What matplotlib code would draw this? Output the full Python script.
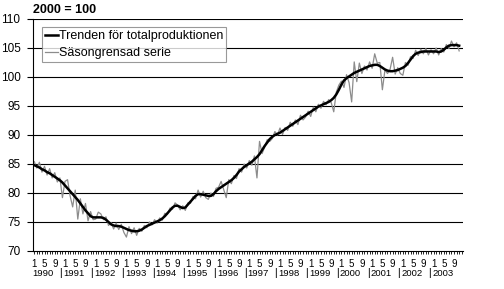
import numpy as np
import matplotlib
matplotlib.use("Agg")
import matplotlib.pyplot as plt

plt.rcParams["font.family"] = ["Liberation Sans", "DejaVu Sans"]

years = [1990, 1991, 1992, 1993, 1994, 1995, 1996, 1997, 1998, 1999, 2000, 2001, 2002, 2003]
month_labels = ["1", "5", "9"]

# trend, monthly from Jan 1990
trend = [
    84.8, 84.6, 84.4, 84.1, 83.9, 83.6, 83.4, 83.1, 82.8, 82.5, 82.2, 81.8,
    81.3, 80.8, 80.3, 79.8, 79.3, 78.8, 78.2, 77.6, 77.0, 76.5, 76.0, 75.8,
    75.8, 75.8, 75.8, 75.7, 75.4, 75.0, 74.6, 74.4, 74.3, 74.3, 74.2, 74.0,
    73.8, 73.6, 73.5, 73.4, 73.4, 73.5, 73.7, 74.0, 74.3, 74.5, 74.7, 74.9,
    75.1, 75.3, 75.6, 76.0, 76.5, 77.0, 77.5, 77.8, 77.8, 77.6, 77.4, 77.5,
    78.0, 78.5, 79.0, 79.5, 79.8, 79.8, 79.7, 79.6, 79.5, 79.5, 79.8, 80.3,
    80.7, 81.0, 81.3, 81.6, 81.9, 82.2, 82.6, 83.1, 83.7, 84.1, 84.5, 84.8,
    85.1, 85.4, 85.8, 86.2, 86.7, 87.4, 88.1, 88.7, 89.3, 89.7, 90.0, 90.2,
    90.4, 90.7, 91.0, 91.3, 91.6, 91.9, 92.2, 92.5, 92.8, 93.1, 93.4, 93.7,
    94.0, 94.3, 94.6, 94.9, 95.1, 95.3, 95.5, 95.7, 96.0, 96.4, 97.0, 97.8,
    98.7, 99.4, 99.8, 100.1, 100.4, 100.7, 100.9, 101.1, 101.3, 101.5, 101.7, 101.9,
    102.0, 102.1, 102.1, 101.9, 101.6, 101.3, 101.1, 101.0, 101.0, 101.1, 101.2, 101.4,
    101.6, 101.9, 102.4, 103.0, 103.6, 104.0, 104.2, 104.3, 104.4, 104.4, 104.4, 104.4,
    104.4, 104.4, 104.3, 104.4, 104.7, 105.1, 105.4, 105.5, 105.5, 105.5, 105.4,
]

# seasonally adjusted series
sasong = [
    85.4, 84.3, 85.3, 83.6, 84.6, 83.1, 84.2, 82.6, 83.5, 81.9, 82.6, 79.2,
    82.0, 82.3, 79.5, 77.6, 80.5, 75.5, 79.0, 76.4, 78.2, 75.2, 76.8, 75.4,
    75.5, 76.7, 76.4, 75.4, 75.9, 74.4, 74.9, 73.8, 74.8, 73.7, 74.6, 73.2,
    72.4, 74.2, 73.0, 74.0, 72.7, 73.9, 73.4, 74.4, 74.0, 75.0, 74.5, 75.4,
    74.8, 75.7, 75.3, 76.5, 76.3, 77.4, 77.2, 78.3, 77.9, 77.1, 77.8, 77.0,
    78.3, 78.2, 79.4, 79.0, 80.5, 79.3, 80.3, 79.2, 78.9, 80.0, 79.4, 80.8,
    81.0, 82.0, 80.6, 79.2, 82.3, 81.6, 83.0, 82.5, 84.2, 83.6, 85.0, 84.3,
    85.6, 84.8, 86.4, 82.6, 88.9, 86.8, 87.9, 89.2, 88.9, 89.4, 90.6, 90.0,
    91.2, 90.1, 91.3, 90.8, 92.2, 91.5, 92.6, 91.8, 93.4, 92.6, 93.1, 94.1,
    93.2, 94.8, 94.0, 95.3, 94.6, 95.8, 95.2, 96.1, 95.6, 94.0, 97.4, 98.6,
    99.3, 98.2, 100.4, 99.0, 95.7, 102.6, 99.2, 102.4, 100.6, 101.9, 101.2, 102.6,
    101.5, 104.0, 102.4, 102.5, 97.8, 101.2, 100.6, 101.3, 103.4, 100.5, 101.6, 100.6,
    100.3, 102.5, 102.0, 103.5, 103.2, 104.6, 103.7, 104.8, 104.0, 104.9, 103.8, 104.7,
    104.0, 105.0, 103.8, 104.9, 104.3, 105.6, 104.9, 106.2, 105.2, 105.9, 104.5,
]

t = np.arange(len(trend))
fig = plt.figure(figsize=(5.04, 2.89), dpi=100)
ax = fig.add_axes([33 / 504, 38 / 289, 430 / 504, 232 / 289])

ax.plot(t, sasong, color="#8c8c8c", lw=0.9, label="Säsongrensad serie", zorder=2)
ax.plot(t, trend, color="black", lw=1.8, label="Trenden för totalproduktionen", zorder=3)

ax.set_ylim(70, 110)
ax.set_xlim(-0.5, 12 * len(years) - 0.5)
ax.set_yticks(range(70, 111, 5))
for v in range(75, 111, 5):
    ax.axhline(v, color="black", lw=0.8, zorder=1)

for s in ["top", "right"]:
    ax.spines[s].set_visible(False)
ax.spines["left"].set_linewidth(0.8)
ax.spines["bottom"].set_linewidth(0.8)

ax.tick_params(axis="y", length=4, width=0.8, pad=5, labelsize=8.5)
pos = [12 * k + m for k in range(len(years)) for m in (0, 4, 8)]
ax.set_xticks(pos)
ax.set_xticklabels(month_labels * len(years))
ax.set_xticks(np.arange(0, 12 * len(years)), minor=True)
ax.tick_params(axis="x", which="both", length=2.5, width=0.6, pad=3, labelsize=7)

for k, y in enumerate(years):
    ax.annotate(str(y), xy=(12 * k - 0.6, 0), xycoords=("data", "axes fraction"),
                xytext=(0, -16), textcoords="offset points", ha="left", va="center", fontsize=6.8)
    if k > 0:
        ax.annotate("|", xy=(12 * k - 1.6, 0), xycoords=("data", "axes fraction"),
                    xytext=(0, -16), textcoords="offset points", ha="center", va="center", fontsize=7.5)

fig.text(33 / 504, 1 - 10 / 289, "2000 = 100", fontsize=9, fontweight="bold", va="center", ha="left")

h, l = ax.get_legend_handles_labels()
leg = ax.legend(h[::-1], l[::-1], loc="upper left", bbox_to_anchor=(9 / 430, 1 - 8 / 232),
                fontsize=9, frameon=True, fancybox=False, handlelength=1.0, handletextpad=0.1,
                borderpad=0.25, labelspacing=0.4, borderaxespad=0)
leg.get_frame().set_edgecolor("#808080")
leg.get_frame().set_linewidth(0.8)
leg.set_zorder(5)

fig.savefig("out.png", dpi=100)
